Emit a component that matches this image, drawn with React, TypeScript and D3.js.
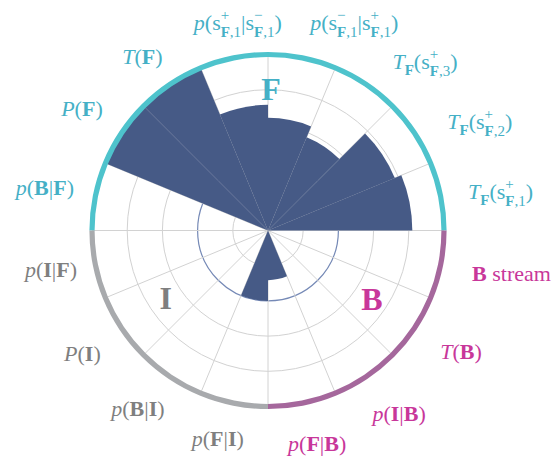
import React from 'react';
import * as d3 from 'd3';

const W = 558;
const H = 457;
const CX = 268;
const CY = 230.5;
const R = 176;

// Sixteen sectors, counter-clockwise from the east axis
const categories = [
  'T_F(s+_F,1)', 'T_F(s+_F,2)', 'T_F(s+_F,3)', 'p(s−_F,1|s+_F,1)',
  'p(s+_F,1|s−_F,1)', 'T(F)', 'P(F)', 'p(B|F)',
  'p(I|F)', 'P(I)', 'p(B|I)', 'p(F|I)',
  'p(F|B)', 'p(I|B)', 'T(B)', 'B stream',
];
const values = [4.1, 3.9, 2.87, 3.2, 3.57, 5, 5, 0, 0, 0, 0, 2.0, 1.41, 0, 0, 0];
const streams = ['F', 'F', 'F', 'F', 'F', 'F', 'F', 'F', 'I', 'I', 'I', 'I', 'B', 'B', 'B', 'B'];
const radialTicks = [1, 2, 3, 4];
const radialMax = 5;
const highlightTick = 2;
const streamNames = ['F', 'I', 'B'];
const streamSpans = [[0, 180], [180, 270], [270, 360]];
const streamLetterPos = [[90, 141], [213.75, 123], [326.25, 125]];

const labelColor: Record<string, string> = { F: '#45b0c6', I: '#7f7f7f', B: '#c8379a' };
const ringColor: Record<string, string> = { F: '#4ec3cc', I: '#a8aaad', B: '#a5679c' };
const BAR = '#465a86';
const GRID = '#d2d2d2';
const BLUE_RING = '#7589b6';
const FONT = "'Liberation Serif', 'Times New Roman', serif";

type Run = { t: string; it?: boolean; b?: boolean; lvl?: 'sub' | 'sup' | 'low'; back?: boolean };
const it = (t: string): Run => ({ t, it: true });
const bf = (t: string): Run => ({ t, b: true });
const rm = (t: string): Run => ({ t });
// a state symbol with a stacked superscript sign and subscript index
const state = (sign: string, idx: number): Run[] => [
  rm('s'),
  { t: sign, lvl: 'sup' },
  { t: 'F', b: true, lvl: 'sub', back: true },
  { t: ',' + idx, lvl: 'sub' },
];
const cond = (fn: string, a: string, b: string): Run[] => [it(fn), rm('('), bf(a), rm('|'), bf(b), rm(')')];

const labelRuns: Run[][] = [
  [it('T'), { t: 'F', b: true, lvl: 'low' }, rm('('), ...state('+', 1), rm(')')],
  [it('T'), { t: 'F', b: true, lvl: 'low' }, rm('('), ...state('+', 2), rm(')')],
  [it('T'), { t: 'F', b: true, lvl: 'low' }, rm('('), ...state('+', 3), rm(')')],
  [it('p'), rm('('), ...state('−', 1), rm('|'), ...state('+', 1), rm(')')],
  [it('p'), rm('('), ...state('+', 1), rm('|'), ...state('−', 1), rm(')')],
  [it('T'), rm('('), bf('F'), rm(')')],
  [it('P'), rm('('), bf('F'), rm(')')],
  cond('p', 'B', 'F'),
  cond('p', 'I', 'F'),
  [it('P'), rm('('), bf('I'), rm(')')],
  cond('p', 'B', 'I'),
  cond('p', 'F', 'I'),
  cond('p', 'F', 'B'),
  cond('p', 'I', 'B'),
  [it('T'), rm('('), bf('B'), rm(')')],
  [bf('B'), rm(' stream')],
];

// label placement: anchor side and fine offsets from the anchor point
const LABEL_R = 206;
const labelAnchor = ['start', 'start', 'start', 'start', 'middle', 'end', 'end', 'end',
  'end', 'end', 'end', 'middle', 'middle', 'start', 'start', 'start'];
const labelNudge = [
  [-2, 9], [8, 13], [10, 10], [2, 2], [10, 2], [9, 5], [6, 0], [8, 5],
  [11, 6], [4, 16], [11, 14], [-10, 13], [9, 18], [-10, 19], [1, 14], [2, 10],
];

const MAIN = 22;
const SMALL = 15;
const SHIFT = { sup: -10, sub: 7, low: 6 } as Record<string, number>;

function MathLabel({ runs, x, y, anchor, color }: { runs: Run[]; x: number; y: number; anchor: string; color: string }) {
  let cur = 0;
  let prevSup = '';
  return (
    <text x={x} y={y} textAnchor={anchor} fill={color} fontFamily={FONT} fontSize={MAIN} style={{ whiteSpace: 'pre' }}>
      {runs.map((r, i) => {
        const shift = r.lvl ? SHIFT[r.lvl] : 0;
        const dy = shift - cur;
        cur = shift;
        const dx = r.back ? -(0.564 * SMALL * prevSup.length) : undefined;
        if (r.lvl === 'sup') prevSup = r.t;
        return (
          <tspan key={i} dy={dy} dx={dx}
            fontSize={r.lvl ? SMALL : undefined}
            fontStyle={r.it ? 'italic' : undefined}
            fontWeight={r.b ? 'bold' : undefined}>
            {r.t}
          </tspan>
        );
      })}
    </text>
  );
}

const toRad = (deg: number) => (deg * Math.PI) / 180;
// math angle (ccw from east) -> d3 arc angle (cw from north)
const d3a = (deg: number) => Math.PI / 2 - toRad(deg);

export default function App() {
  const n = categories.length;
  const step = 360 / n;
  const r = d3.scaleLinear().domain([0, radialMax]).range([0, R]);
  const sector = (i: number) => [i * step, (i + 1) * step];

  const barArc = d3.arc<any>();
  const ringArc = d3.arc<any>().innerRadius(R - 2.6).outerRadius(R + 2.6);

  return (
    <svg width={W} height={H} style={{ position: 'absolute', left: 0, top: 0, background: '#fff' }}>
      <g transform={`translate(${CX},${CY})`}>
        {/* grid circles */}
        {radialTicks.map((t) => (
          <circle key={t} r={r(t)} fill="none"
            stroke={t === highlightTick ? BLUE_RING : GRID}
            strokeWidth={t === highlightTick ? 1.2 : 1} />
        ))}
        {/* spokes */}
        {d3.range(n).map((i) => {
          const a = toRad(i * step);
          return <line key={i} x1={0} y1={0} x2={R * Math.cos(a)} y2={-R * Math.sin(a)} stroke={GRID} strokeWidth={1} />;
        })}
        {/* bars */}
        {values.map((v, i) => {
          if (v <= 0) return null;
          const [a0, a1] = sector(i);
          const d = barArc({ innerRadius: 0, outerRadius: r(v), startAngle: d3a(a1), endAngle: d3a(a0) } as any);
          return <path key={i} d={d || ''} fill={BAR} />;
        })}
        {/* stream rings */}
        {streamNames.map((s, k) => {
          const [a0, a1] = streamSpans[k];
          const d = ringArc({ startAngle: d3a(a1), endAngle: d3a(a0) } as any);
          return <path key={s} d={d || ''} fill={ringColor[s]} />;
        })}
        {/* stream letters */}
        {streamNames.map((s, k) => {
          const [ang, rad] = streamLetterPos[k];
          const a = toRad(ang);
          return (
            <text key={s} x={rad * Math.cos(a) + (s === 'F' ? 3 : 0)} y={-rad * Math.sin(a) + 10.5} textAnchor="middle"
              fontFamily={FONT} fontWeight="bold" fontSize={32} fill={labelColor[s]}>{s}</text>
          );
        })}
        {/* category labels */}
        {categories.map((c, i) => {
          const [a0, a1] = sector(i);
          const a = toRad((a0 + a1) / 2);
          const x = LABEL_R * Math.cos(a) + labelNudge[i][0];
          const y = -LABEL_R * Math.sin(a) + labelNudge[i][1];
          return <MathLabel key={c} runs={labelRuns[i]} x={x} y={y} anchor={labelAnchor[i]} color={labelColor[streams[i]]} />;
        })}
      </g>
    </svg>
  );
}
